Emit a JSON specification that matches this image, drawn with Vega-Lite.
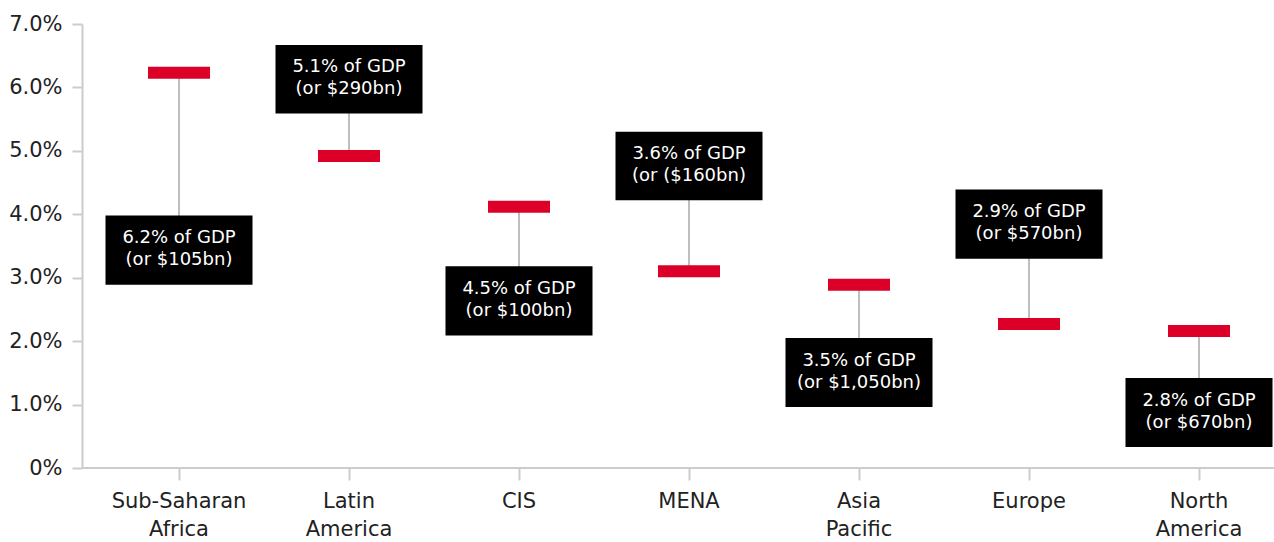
{
  "$schema": "https://vega.github.io/schema/vega-lite/v6.json",
  "width": 1192,
  "height": 444,
  "autosize": {"type": "none"},
  "padding": {"left": 82, "top": 24, "right": 0, "bottom": 74},
  "background": "white",
  "config": {"view": {"stroke": null}, "font": "DejaVu Sans"},
  "data": {
    "values": [
      {"region": "Sub-Saharan Africa", "bar": 6.23, "top": 3.98, "bottom": 2.89, "mid": 3.435, "label": "6.2% of GDP\n(or $105bn)"},
      {"region": "Latin America", "bar": 4.92, "top": 6.67, "bottom": 5.59, "mid": 6.13, "label": "5.1% of GDP\n(or $290bn)"},
      {"region": "CIS", "bar": 4.12, "top": 3.18, "bottom": 2.09, "mid": 2.635, "label": "4.5% of GDP\n(or $100bn)"},
      {"region": "MENA", "bar": 3.1, "top": 5.3, "bottom": 4.22, "mid": 4.76, "label": "3.6% of GDP\n(or ($160bn)"},
      {"region": "Asia Pacific", "bar": 2.89, "top": 2.05, "bottom": 0.96, "mid": 1.505, "label": "3.5% of GDP\n(or $1,050bn)"},
      {"region": "Europe", "bar": 2.27, "top": 4.39, "bottom": 3.3, "mid": 3.845, "label": "2.9% of GDP\n(or $570bn)"},
      {"region": "North America", "bar": 2.16, "top": 1.42, "bottom": 0.33, "mid": 0.875, "label": "2.8% of GDP\n(or $670bn)"}
    ]
  },
  "layer": [
    {
      "mark": {"type": "rule", "color": "#cccccc", "strokeWidth": 2},
      "encoding": {
        "y": {"datum": 0, "type": "quantitative", "scale": {"domain": [0, 7], "nice": false}}
      }
    },
    {
      "mark": {"type": "rule", "color": "#a8a8a8", "strokeWidth": 1.5},
      "encoding": {
        "x": {"field": "region", "type": "nominal", "sort": null, "scale": {"type": "band", "range": [12, 1202], "paddingInner": 0, "paddingOuter": 0},
          "axis": {"title": null, "domain": false, "ticks": true, "tickColor": "#cccccc", "tickWidth": 2, "tickSize": 12, "labelFont": "DejaVu Sans", "labelFontSize": 21, "labelColor": "#222222", "labelPadding": 10, "labelLineHeight": 28, "labelAngle": 0, "labelExpr": "split(datum.label, ' ')"}},
        "y": {"field": "bar", "type": "quantitative", "scale": {"domain": [0, 7], "nice": false},
          "axis": {"title": null, "values": [0, 1, 2, 3, 4, 5, 6, 7], "grid": false, "domain": true, "domainColor": "#cccccc", "domainWidth": 2, "tickColor": "#cccccc", "tickWidth": 2, "tickSize": 10, "labelPadding": 10, "labelFont": "DejaVu Sans", "labelFontSize": 21, "labelColor": "#222222", "labelExpr": "datum.value == 0 ? '0%' : format(datum.value, '.1f') + '%'"}},
        "y2": {"field": "mid"}
      }
    },
    {
      "mark": {"type": "bar", "color": "#000000", "width": 147},
      "encoding": {
        "x": {"field": "region", "type": "nominal", "sort": null},
        "y": {"field": "top", "type": "quantitative"},
        "y2": {"field": "bottom"}
      }
    },
    {
      "mark": {"type": "tick", "color": "#dc0028", "opacity": 1, "thickness": 12, "size": 62},
      "encoding": {
        "x": {"field": "region", "type": "nominal", "sort": null},
        "y": {"field": "bar", "type": "quantitative"}
      }
    },
    {
      "mark": {"type": "text", "color": "white", "font": "DejaVu Sans", "fontSize": 18, "lineHeight": 22, "lineBreak": "\n", "baseline": "middle", "align": "center", "dy": -12},
      "encoding": {
        "x": {"field": "region", "type": "nominal", "sort": null},
        "y": {"field": "mid", "type": "quantitative"},
        "text": {"field": "label"}
      }
    }
  ]
}
